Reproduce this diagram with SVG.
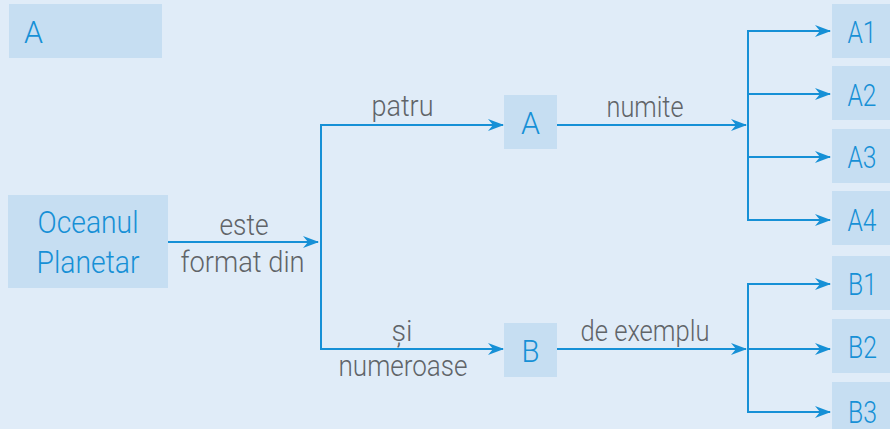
<svg xmlns="http://www.w3.org/2000/svg" width="890" height="429" viewBox="0 0 890 429">
<style>
.box{fill:#C6DEF2}
.nt{font-family:Roboto,"Liberation Sans",sans-serif;font-weight:300;font-size:31px;fill:#1690D6;text-anchor:middle}
.lb{font-family:Roboto,"Liberation Sans",sans-serif;font-weight:300;font-size:30px;fill:#606468;text-anchor:middle}
.ln{fill:none;stroke:#1690D6;stroke-width:2}
</style>
<defs>
<marker id="ah" markerUnits="userSpaceOnUse" markerWidth="16" markerHeight="12" refX="15" refY="6" orient="auto">
<path d="M0,0 L16,6 L0,12 L5,6 z" fill="#1690D6"/>
</marker>
</defs>
<rect width="890" height="429" fill="#E0ECF8"/>
<g id="header"><rect class="box" x="9" y="4" width="153" height="54"/><text class="nt" x="33.5" y="43" textLength="19" lengthAdjust="spacingAndGlyphs">A</text></g>
<g id="ocean"><rect class="box" x="8" y="195" width="160" height="93"/><text class="nt" x="88" y="233" textLength="101" lengthAdjust="spacingAndGlyphs">Oceanul</text><text class="nt" x="88" y="273" textLength="103" lengthAdjust="spacingAndGlyphs">Planetar</text></g>
<g id="nodeA"><rect class="box" x="504" y="95" width="53" height="54"/><text class="nt" x="530.5" y="134" textLength="19" lengthAdjust="spacingAndGlyphs">A</text></g>
<g id="nodeB"><rect class="box" x="504" y="323" width="53" height="54"/><text class="nt" x="530.5" y="362" textLength="18" lengthAdjust="spacingAndGlyphs">B</text></g>
<g id="A1"><rect class="box" x="832" y="4" width="58" height="54"/><text class="nt" x="862" y="43" textLength="29" lengthAdjust="spacingAndGlyphs">A1</text></g>
<g id="A2"><rect class="box" x="832" y="66" width="58" height="54"/><text class="nt" x="862" y="106" textLength="29" lengthAdjust="spacingAndGlyphs">A2</text></g>
<g id="A3"><rect class="box" x="832" y="129" width="58" height="54"/><text class="nt" x="862" y="168" textLength="29" lengthAdjust="spacingAndGlyphs">A3</text></g>
<g id="A4"><rect class="box" x="832" y="191" width="58" height="54"/><text class="nt" x="862" y="231" textLength="29" lengthAdjust="spacingAndGlyphs">A4</text></g>
<g id="B1"><rect class="box" x="832" y="256" width="58" height="54"/><text class="nt" x="862.5" y="295" textLength="29" lengthAdjust="spacingAndGlyphs">B1</text></g>
<g id="B2"><rect class="box" x="832" y="319" width="58" height="54"/><text class="nt" x="862.5" y="358" textLength="29" lengthAdjust="spacingAndGlyphs">B2</text></g>
<g id="B3"><rect class="box" x="832" y="382" width="58" height="54"/><text class="nt" x="862.5" y="423" textLength="29" lengthAdjust="spacingAndGlyphs">B3</text></g>
<g id="connectors">
<path class="ln" d="M168,242 H318" marker-end="url(#ah)"/>
<path class="ln" d="M321,349 V125"/>
<path class="ln" d="M320,125 H503" marker-end="url(#ah)"/>
<path class="ln" d="M320,349 H503" marker-end="url(#ah)"/>
<path class="ln" d="M557,125 H746" marker-end="url(#ah)"/>
<path class="ln" d="M557,349 H746" marker-end="url(#ah)"/>
<path class="ln" d="M748,220 V30"/>
<path class="ln" d="M747,31 H830" marker-end="url(#ah)"/>
<path class="ln" d="M748,94 H830" marker-end="url(#ah)"/>
<path class="ln" d="M748,157 H830" marker-end="url(#ah)"/>
<path class="ln" d="M747,220 H830" marker-end="url(#ah)"/>
<path class="ln" d="M748,412 V284"/>
<path class="ln" d="M747,284 H830" marker-end="url(#ah)"/>
<path class="ln" d="M748,349 H830" marker-end="url(#ah)"/>
<path class="ln" d="M747,412 H830" marker-end="url(#ah)"/>
<text class="lb" x="244" y="235" textLength="49" lengthAdjust="spacingAndGlyphs">este</text>
<text class="lb" x="242.5" y="272" textLength="124" lengthAdjust="spacingAndGlyphs">format din</text>
<text class="lb" x="402.5" y="116" textLength="62" lengthAdjust="spacingAndGlyphs">patru</text>
<text class="lb" x="402" y="341" textLength="21" lengthAdjust="spacingAndGlyphs">și</text>
<text class="lb" x="403" y="376" textLength="129" lengthAdjust="spacingAndGlyphs">numeroase</text>
<text class="lb" x="645" y="117" textLength="77" lengthAdjust="spacingAndGlyphs">numite</text>
<text class="lb" x="645" y="341" textLength="129" lengthAdjust="spacingAndGlyphs">de exemplu</text>
</g>
</svg>
